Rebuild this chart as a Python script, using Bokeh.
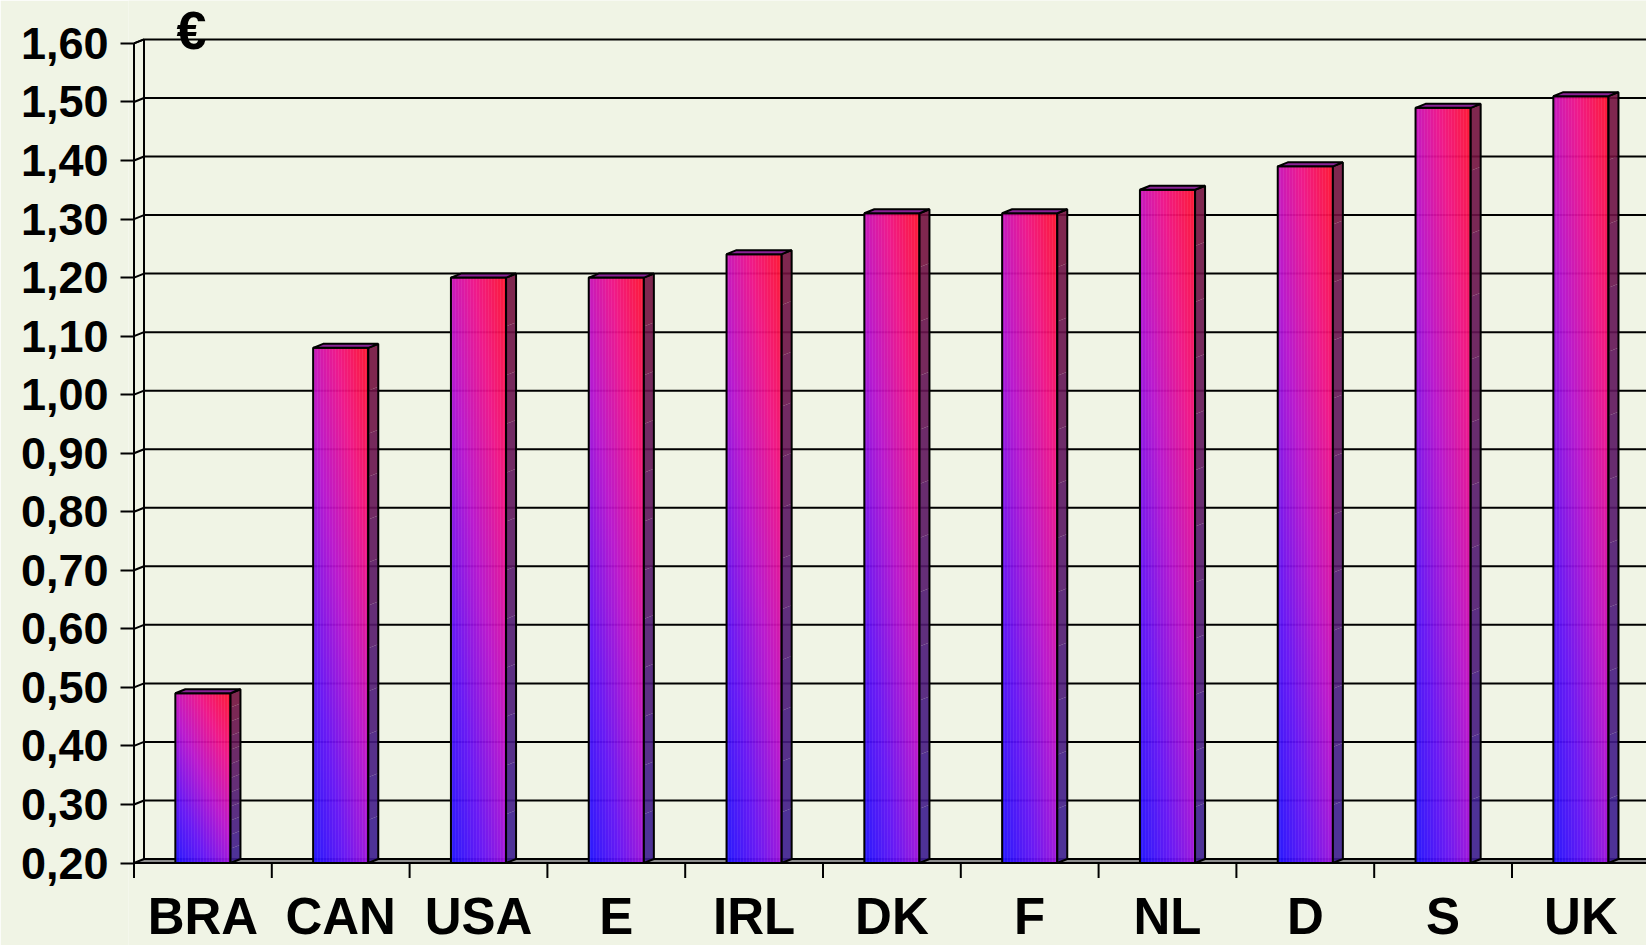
import numpy as np
from bokeh.plotting import figure
from bokeh.models import Range1d, FixedTicker, Label, LinearAxis
from bokeh.core.properties import value
from bokeh.embed import file_html
from bokeh.resources import INLINE

# ---------------- data ----------------
categories = ["BRA", "CAN", "USA", "E", "IRL", "DK", "F", "NL", "D", "S", "UK"]
values = [0.49, 1.08, 1.20, 1.20, 1.24, 1.31, 1.31, 1.35, 1.39, 1.49, 1.51]
y_ticks = [0.2, 0.3, 0.4, 0.5, 0.6, 0.7, 0.8, 0.9, 1.0, 1.1, 1.2, 1.3, 1.4, 1.5, 1.6]
y_tick_labels = ["0,20", "0,30", "0,40", "0,50", "0,60", "0,70", "0,80", "0,90",
                 "1,00", "1,10", "1,20", "1,30", "1,40", "1,50", "1,60"]
unit_label = "€"

# ---------------- geometry / style ----------------
BG = "#F0F4E5"
FONT = "Liberation Sans"
W, H = 1646, 945
U = 137.8          # px per category
V = 585.4          # px per value unit
X0 = 133.5         # px of category boundary 0 (front left wall)
Y0 = 862.5         # px of the floor (value base)
base = y_ticks[0]
top = y_ticks[-1]
DX = 10.0 / U      # 3D depth in x (data units)
DY = 4.0 / V       # 3D depth in y (data units)
n = len(categories)
FRAME_LEFT = 128

x_start = -(X0 - FRAME_LEFT) / U
x_end = (W - X0) / U
y_start = base - (H - Y0) / V
y_end = base + Y0 / V

p = figure(width=W, height=H, output_backend="svg", toolbar_location=None,
           x_range=Range1d(x_start, x_end), y_range=Range1d(y_start, y_end),
           min_border_left=FRAME_LEFT, min_border_right=0, min_border_top=0,
           min_border_bottom=0, x_axis_type=None, y_axis_type=None)
p.background_fill_color = BG
p.border_fill_color = BG
p.outline_line_color = None
p.xgrid.visible = False
p.ygrid.visible = False

# ---------------- y axis ----------------
yaxis = LinearAxis(ticker=FixedTicker(ticks=y_ticks))
yaxis.major_label_overrides = {t: l for t, l in zip(y_ticks, y_tick_labels)}
yaxis.axis_line_color = None
yaxis.major_tick_out = 8
yaxis.major_tick_in = 5
yaxis.major_tick_line_width = 2
yaxis.major_tick_line_color = "black"
yaxis.minor_tick_line_color = None
yaxis.major_label_standoff = 12
yaxis.major_label_text_font = FONT
yaxis.major_label_text_font_style = "bold"
yaxis.major_label_text_font_size = "45px"
yaxis.major_label_text_color = "black"
p.add_layout(yaxis, "left")

# ---------------- back wall gridlines ----------------
gx, gy = [], []
for t in y_ticks[1:]:
    gx.append([0, DX, x_end + 1])
    gy.append([t, t + DY, t + DY])
p.multi_line(gx, gy, line_color="black", line_width=2)

# left wall
p.multi_line([[0, 0, DX], [DX, DX]], [[base, top, top + DY], [base + DY, top + DY]],
             line_color="black", line_width=2)

# floor
p.patch([0, x_end + 1, x_end + 1, DX], [base, base, base + DY, base + DY],
        fill_color="#8C8C8C", line_color="black", line_width=2)

# category tick marks (between categories)
boundaries = list(range(0, n + 1))
p.segment(x0=boundaries, x1=boundaries, y0=[base] * len(boundaries),
          y1=[base - 15 / V] * len(boundaries), line_color="black", line_width=2)

# ---------------- bars ----------------
bw = 0.4
lefts = [i + 0.3 for i in range(n)]
rights = [l + bw for l in lefts]

# front gradient image (blue bottom-left -> red top-right), slightly translucent
ny, nx = 240, 60
yy, xx = np.mgrid[0:ny, 0:nx]
tt = 0.42 * xx / (nx - 1) + 0.58 * yy / (ny - 1)
stops = [0.0, 0.25, 0.5, 0.75, 1.0]
R = np.interp(tt, stops, [30, 100, 182, 238, 255])
G = np.interp(tt, stops, [14, 14, 14, 14, 16])
B = np.interp(tt, stops, [255, 244, 206, 136, 44])
img = np.empty((ny, nx), dtype=np.uint32)
view = img.view(dtype=np.uint8).reshape((ny, nx, 4))
view[..., 0] = R.astype(np.uint8)
view[..., 1] = G.astype(np.uint8)
view[..., 2] = B.astype(np.uint8)
view[..., 3] = 242

p.image_rgba(image=[img] * n, x=lefts, y=[base] * n, dw=[bw] * n,
             dh=[v - base for v in values])

# subtle stripe texture + outline of front face
p.quad(left=lefts, right=rights, bottom=[base] * n, top=values,
       fill_alpha=0, hatch_pattern="|", hatch_color="white", hatch_alpha=0.07,
       hatch_scale=3, hatch_weight=1, line_color="black", line_width=2)

# side faces (shaded in slices)
def mix(c0, c1, f):
    return "#%02x%02x%02x" % tuple(int(round(a + (b - a) * f)) for a, b in zip(c0, c1))

side_lo = (58, 30, 146)
side_hi = (116, 16, 58)
NS = 12
sx, sy, sc = [], [], []
for r, v in zip(rights, values):
    for k in range(NS):
        y0 = base + (v - base) * k / NS
        y1 = base + (v - base) * (k + 1) / NS
        sx.append([r, r + DX, r + DX, r])
        sy.append([y0, y0 + DY, y1 + DY, y1])
        sc.append(mix(side_lo, side_hi, (k + 0.5) / NS))
p.patches(sx, sy, fill_color=sc, fill_alpha=0.9, line_color=None)
p.patches([[r, r + DX, r + DX, r] for r in rights],
          [[base, base + DY, v + DY, v] for v in values],
          fill_alpha=0, line_color="black", line_width=2)

# top faces
p.patches([[l, r, r + DX, l + DX] for l, r in zip(lefts, rights)],
          [[v, v, v + DY, v + DY] for v in values],
          fill_color="#8A2296", line_color="black", line_width=2)

# ---------------- category labels ----------------
p.text(x=[i + 0.5 for i in range(n)], y=[base - (916 - Y0) / V] * n, text=categories,
       text_font=value(FONT), text_font_style="bold", text_font_size="51px",
       text_align="center", text_baseline="middle", text_color="black")

# unit label
p.add_layout(Label(x=(176 - X0) / U, y=base + (Y0 - 29) / V, text=unit_label,
                   text_font=FONT, text_font_style="bold", text_font_size="54px",
                   text_align="left", text_baseline="middle", text_color="black"))

open("out.html", "w").write(file_html(p, INLINE))
